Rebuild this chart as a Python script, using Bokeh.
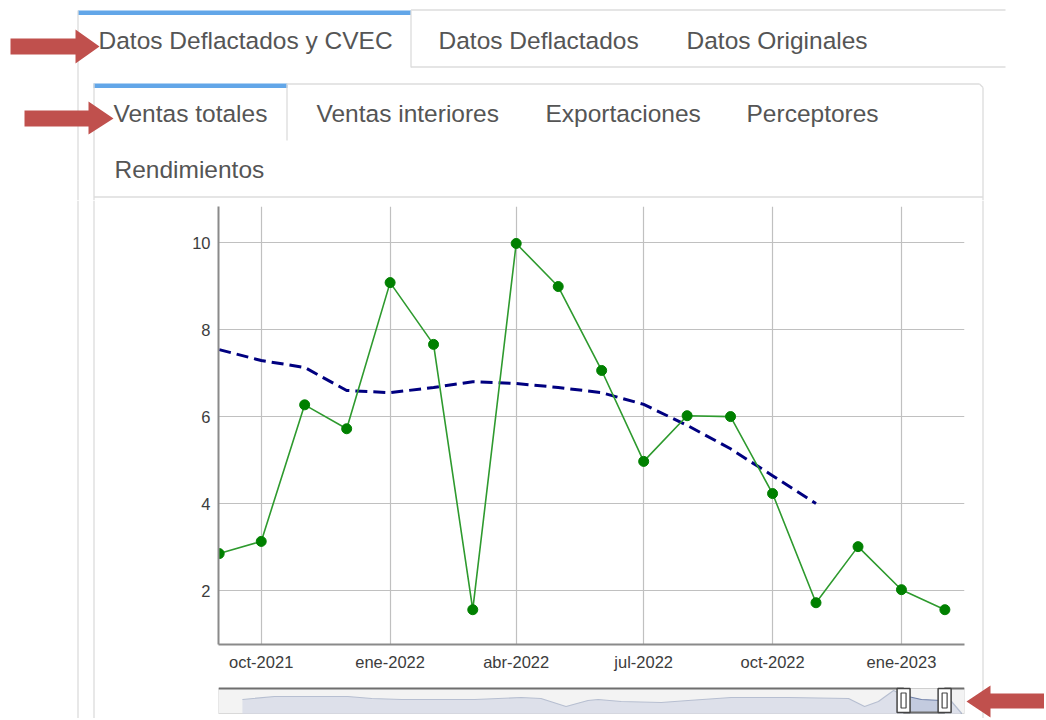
from datetime import datetime
from bokeh.plotting import figure
from bokeh.layouts import row, column
from bokeh.models import Range1d, FixedTicker, CustomJSTickFormatter, ColumnDataSource
from bokeh.core.properties import value
from bokeh.embed import file_html
from bokeh.resources import INLINE

# ---------------- datos ----------------
fechas = ["2021-09-01", "2021-10-01", "2021-11-01", "2021-12-01", "2022-01-01",
          "2022-02-01", "2022-03-01", "2022-04-01", "2022-05-01", "2022-06-01",
          "2022-07-01", "2022-08-01", "2022-09-01", "2022-10-01", "2022-11-01",
          "2022-12-01", "2023-01-01", "2023-02-01"]
ventas_totales = [2.85, 3.13, 6.27, 5.72, 9.08, 7.66, 1.56, 9.98, 8.99, 7.06,
                  4.97, 6.02, 6.00, 4.23, 1.72, 3.01, 2.02, 1.56]
tendencia = [7.54, 7.29, 7.13, 6.60, 6.55, 6.67, 6.80, 6.76, 6.67, 6.55,
             6.28, 5.80, 5.26, 4.64, 4.00]
x_tick_fechas = ["2021-10-01", "2022-01-01", "2022-04-01", "2022-07-01",
                 "2022-10-01", "2023-01-01"]
meses_abrev = ["ene", "feb", "mar", "abr", "may", "jun", "jul", "ago", "sep",
               "oct", "nov", "dic"]
y_ticks = [2, 4, 6, 8, 10]
tabs_principales = ["Datos Deflactados y CVEC", "Datos Deflactados", "Datos Originales"]
tabs_secundarias = ["Ventas totales", "Ventas interiores", "Exportaciones",
                    "Perceptores", "Rendimientos"]
# serie completa del navegador (años decimales, altura relativa)
nav_anios = [1998.17, 1999.31, 2001.91, 2002.77, 2003.83, 2006.43, 2008.07, 2008.78,
             2009.67, 2010.45, 2010.81, 2011.63, 2013.05, 2014.01, 2015.54, 2017.57,
             2019.71, 2020.28, 2020.77, 2021.31, 2021.66, 2022.30, 2023.02, 2023.37,
             2023.73]
nav_valores = [14, 17, 17, 15, 14, 14, 16, 15, 7, 13, 14, 12, 11, 13, 16, 16,
               15, 7, 12, 23, 18, 14, 13, 12, 0]

# ---------------- rangos ----------------
x_inicio = "2021-08-31 12:00"
x_final = "2023-02-15 00:00"
y_inicio, y_final = 0.76, 10.83
nav_inicio, nav_final = 1997.32, 2023.83


def to_dt(s):
    return datetime.strptime(s, "%Y-%m-%d %H:%M" if " " in s else "%Y-%m-%d")


def to_ms(d):
    return (d - datetime(1970, 1, 1)).total_seconds() * 1000.0


def anio_decimal(d):
    a = datetime(d.year, 1, 1)
    b = datetime(d.year + 1, 1, 1)
    return d.year + (d - a) / (b - a)


FONT = value("Liberation Sans")
GRIS_BORDE = "#dcdcdc"
AZUL = "#62a6e8"
ROJO = "#c0504d"
GRIS_TEXTO = "#555555"


def lienzo(w, h, x0, x1, y0, y1):
    f = figure(width=w, height=h, x_range=Range1d(x0, x1), y_range=Range1d(y1, y0),
               output_backend="svg", toolbar_location=None,
               x_axis_location=None, y_axis_location=None, min_border=0)
    f.outline_line_color = None
    f.xgrid.visible = False
    f.ygrid.visible = False
    return f


# ---------------- cabecera (pestañas) ----------------
hdr = lienzo(1044, 200, 0, 1044, 0, 200)
# barras azules de pestañas activas
hdr.quad(left=[77.5, 93], right=[410.5, 287], top=[10, 83], bottom=[14.5, 87.5],
         fill_color=AZUL, line_color=None)
# bordes
seg = dict(
    x0=[77.5, 410.5, 410.5, 410.5, 93.5, 286.5, 286.5, 979, 982.5, 93.5],
    y0=[10, 10, 9.5, 66.5, 83, 83, 83.5, 83.5, 87, 196.5],
    x1=[77.5, 410.5, 1005, 1005, 93.5, 286.5, 979, 982.5, 982.5, 982.5],
    y1=[200, 67, 9.5, 66.5, 200, 140, 83.5, 87, 200, 196.5],
)
hdr.segment(x0="x0", y0="y0", x1="x1", y1="y1", source=ColumnDataSource(seg),
            line_color=GRIS_BORDE, line_width=1.3)
# textos de pestañas
hdr.text(x=[98, 438, 686], y=[39.5, 39.5, 39.5], text=tabs_principales,
         text_font=FONT, text_font_size=value("24.5px"), text_color=GRIS_TEXTO,
         text_baseline="alphabetic", text_align="left")
hdr.text(x=[113, 316, 545, 746, 114], y=[113, 113, 113, 113, 169], text=tabs_secundarias,
         text_font=FONT, text_font_size=value("24.5px"), text_color=GRIS_TEXTO,
         text_baseline="alphabetic", text_align="left")
# flechas rojas
hdr.patches(xs=[[10, 75, 75, 99, 75, 75, 10], [24, 88, 88, 113, 88, 88, 24]],
            ys=[[38, 38, 29, 46, 63, 54, 54], [110, 110, 101, 118, 134, 126, 126]],
            fill_color=ROJO, line_color=None)

# ---------------- laterales ----------------
izq = lienzo(110, 518, 0, 110, 200, 718)
izq.segment(x0=[77.5, 93.5], y0=[200, 200], x1=[77.5, 93.5], y1=[718, 718],
            line_color=GRIS_BORDE, line_width=1.3)

der = lienzo(79, 518, 965, 1044, 200, 718)
der.segment(x0=[982.5], y0=[200], x1=[982.5], y1=[718],
            line_color=GRIS_BORDE, line_width=1.3)
der.patch(x=[966, 990, 990, 1046, 1046, 990, 990],
          y=[701, 685, 693, 693, 708, 708, 717], fill_color=ROJO, line_color=None)

# ---------------- gráfico principal ----------------
fx = [to_dt(f) for f in fechas]
p = figure(width=855, height=480, x_axis_type="datetime",
           x_range=Range1d(to_dt(x_inicio), to_dt(x_final)),
           y_range=Range1d(y_inicio, y_final),
           output_backend="svg", toolbar_location=None,
           min_border_left=108, min_border_right=1, min_border_top=6,
           min_border_bottom=36)
p.outline_line_color = None
p.background_fill_color = "white"

p.xaxis.ticker = FixedTicker(ticks=[to_ms(to_dt(t)) for t in x_tick_fechas])
p.xaxis.formatter = CustomJSTickFormatter(
    args=dict(meses=meses_abrev),
    code="const d = new Date(tick); return meses[d.getUTCMonth()] + '-' + d.getUTCFullYear();")
p.yaxis.ticker = FixedTicker(ticks=y_ticks)

for ax in (p.xaxis, p.yaxis):
    ax.axis_line_color = "#8a8a8a"
    ax.axis_line_width = 2
    ax.major_tick_out = 0
    ax.major_tick_in = 0
    ax.minor_tick_out = 0
    ax.minor_tick_in = 0
    ax.major_label_text_font = "Liberation Sans"
    ax.major_label_text_font_size = "16.5px"
    ax.major_label_text_color = "#3c3c3c"
    ax.major_label_standoff = 8

p.xgrid.grid_line_color = "#c0c0c0"
p.ygrid.grid_line_color = "#c0c0c0"
p.xgrid.grid_line_width = 1.2
p.ygrid.grid_line_width = 1.2

src_t = ColumnDataSource(dict(fecha=fx[:len(tendencia)], valor=tendencia))
src_v = ColumnDataSource(dict(fecha=fx, valor=ventas_totales))
p.line("fecha", "valor", source=src_t, line_color="#000080", line_width=3,
       line_dash="12 6")
p.line("fecha", "valor", source=src_v, line_color="#2e9a2e", line_width=1.6)
p.scatter("fecha", "valor", source=src_v, size=10, fill_color="#008000",
          line_color="#008000", line_width=1)

# ---------------- navegador ----------------
nav = figure(width=855, height=38, x_range=Range1d(nav_inicio, nav_final),
             y_range=Range1d(-1, 27), output_backend="svg", toolbar_location=None,
             x_axis_location=None, y_axis_location=None,
             min_border_left=108, min_border_right=1, min_border_top=6,
             min_border_bottom=4)
nav.outline_line_color = None
nav.xgrid.visible = False
nav.ygrid.visible = False
h_izq = anio_decimal(to_dt(x_inicio))
h_der = anio_decimal(to_dt(x_final))

nav.quad(left=[nav_inicio], right=[nav_final], bottom=[0], top=[25],
         fill_color="#f4f4f4", line_color="#cfcfcf", line_width=1)
src_n = ColumnDataSource(dict(x=nav_anios, y=nav_valores))
nav.varea(x="x", y1=0, y2="y", source=src_n, fill_color="#c3cbdf")
nav.line("x", "y", source=src_n, line_color="#6f80a8", line_width=1.2)
nav.quad(left=[nav_inicio, h_der], right=[h_izq, nav_final], bottom=[0, 0], top=[25, 25],
         fill_color="#f2f2f2", fill_alpha=0.55, line_color=None)
nav.line(x=[nav_inicio, h_izq, h_izq, h_der, h_der, nav_final],
         y=[25, 25, 1, 1, 25, 25], line_color="#6e6e6e", line_width=2)
nav.rect(x=[h_izq, h_der], y=[13, 13], width=13, height=24,
         width_units="screen", height_units="screen",
         fill_color="white", line_color="#444444", line_width=1.5)
nav.rect(x=[h_izq, h_der], y=[13, 13], width=5, height=15,
         width_units="screen", height_units="screen",
         fill_color=None, line_color="#444444", line_width=1.2)

layout = column(hdr, row(izq, column(p, nav), der))

open("out.html", "w").write(file_html(layout, INLINE))
